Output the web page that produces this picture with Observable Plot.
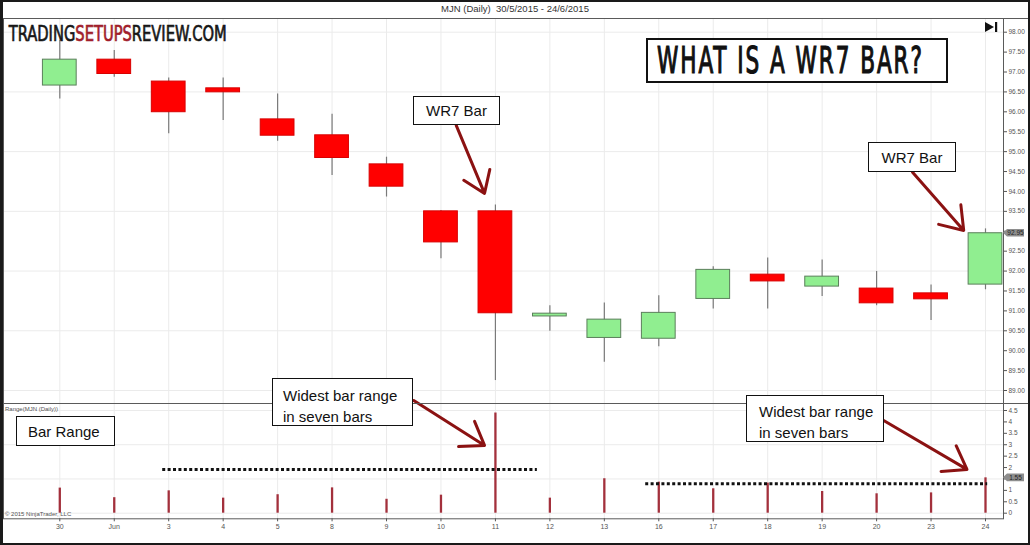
<!DOCTYPE html>
<html>
<head>
<meta charset="utf-8">
<script src="https://cdn.jsdelivr.net/npm/d3@7"></script>
<script src="https://cdn.jsdelivr.net/npm/@observablehq/plot@0.6"></script>
<style>
  html, body { margin: 0; padding: 0; background: #fff; }
  #wrap { position: relative; width: 1030px; height: 545px; overflow: hidden; background: #fff;
          font-family: "Liberation Sans", Arial, sans-serif; }
  #border { position: absolute; left: 0; top: 0; width: 1030px; height: 545px; box-sizing: border-box;
            border: 2px solid #1a1a1a; border-left-width: 3px; z-index: 20; pointer-events: none; }
  .abs { position: absolute; }
  .hline { position: absolute; left: 0; width: 1030px; height: 0; border-top: 1.5px solid #5a5a5a; z-index: 5; }
  .box { position: absolute; background: #fff; border: 1.5px solid #111; box-sizing: border-box;
         font-size: 15px; color: #111; z-index: 10; line-height: 1; }
  .tiny { position: absolute; font-size: 6px; color: #555; z-index: 6; white-space: pre; }
  #price, #lower { position: absolute; left: 0; }
  #price { top: 18px; z-index: 2; }
  #lower { top: 403px; z-index: 3; }
  svg { overflow: visible; }
  #price svg, #lower svg { background: transparent; }
  .cond { font-family: "Liberation Sans Narrow", "DejaVu Sans Condensed", "Liberation Sans", sans-serif; }
</style>
</head>
<body>
<div id="wrap">
  <div class="abs" style="left:0;top:3px;width:1030px;text-align:center;font-size:9.5px;color:#333;white-space:pre;">MJN (Daily)  30/5/2015 - 24/6/2015</div>
  <div id="price"></div>
  <div id="lower"></div>
  <div class="hline" style="top:17.5px"></div>
  <div class="hline" style="top:402.5px"></div>

  <svg class="abs" style="left:8px;top:20px;z-index:9" width="222" height="24">
    <text id="logo" class="cond" data-w="219" data-y="21"
          style="font-size:22px;fill:#161616;stroke:#161616;stroke-width:0.7px;"><tspan>TRADING</tspan><tspan style="fill:#a11d2b;stroke:#a11d2b">SETUPS</tspan><tspan>REVIEW.COM</tspan></text>
  </svg>

  <div class="box" style="left:646px;top:38px;width:302px;height:45px;border-width:2px;">
    <svg width="298" height="41" style="display:block">
      <text id="title" class="cond" data-w="267" data-x="9" data-y="33"
            style="font-size:37px;letter-spacing:3px;fill:#111;stroke:#111;stroke-width:1.2px;">WHAT IS A WR7 BAR?</text>
    </svg>
  </div>

  <svg class="abs" style="left:985px;top:21px;z-index:9" width="14" height="12">
    <polygon points="0,1 9,6 0,11" fill="#111"></polygon>
    <rect x="10" y="1" width="2.2" height="10" fill="#111"></rect>
  </svg>

  <div class="box" style="left:413px;top:96px;width:87px;height:29px;padding-top:6px;text-align:center;">WR7 Bar</div>
  <div class="box" style="left:868px;top:142px;width:88px;height:30px;padding-top:7px;text-align:center;">WR7 Bar</div>
  <div class="box" style="left:272px;top:378px;width:141px;height:48px;padding:6px 0 0 10px;line-height:21px;">Widest bar range<br>in seven bars</div>
  <div class="box" style="left:746px;top:395px;width:138px;height:47px;padding:5px 0 0 12px;line-height:21px;">Widest bar range<br>in seven bars</div>
  <div class="box" style="left:16px;top:416px;width:99px;height:30px;padding:7px 0 0 11px;">Bar Range</div>

  <div class="tiny" style="left:5px;top:406px;">Range(MJN (Daily))</div>
  <div class="tiny" style="left:5px;top:511px;">© 2015 NinjaTrader, LLC</div>

  <div id="border"></div>
</div>

<script>
// ---- data ----
const labels = ["30","Jun","3","4","5","8","9","10","11","12","13","16","17","18","19","20","23","24"];
const open   = [96.66, 97.31, 96.76, 96.59, 95.81, 95.41, 94.68, 93.50, 93.50, 90.86, 90.32, 90.30, 91.30, 91.91, 91.61, 91.56, 91.44, 91.66];
const high   = [97.80, 97.54, 96.85, 96.85, 96.45, 95.94, 94.86, 93.52, 93.66, 91.13, 91.20, 91.38, 92.11, 92.33, 92.28, 91.99, 91.65, 93.06];
const low    = [96.32, 96.87, 95.45, 95.78, 95.26, 94.40, 93.86, 92.31, 89.25, 90.49, 89.71, 90.10, 91.05, 91.05, 91.36, 91.13, 90.76, 91.53];
const close  = [97.31, 96.95, 95.99, 96.49, 95.40, 94.84, 94.12, 92.72, 90.94, 90.93, 90.78, 90.95, 92.03, 91.74, 91.86, 91.19, 91.29, 92.95];
const barRange = [1.10, 0.68, 0.98, 0.66, 0.81, 1.11, 0.61, 0.79, 4.39, 0.66, 1.51, 1.36, 1.07, 1.32, 0.95, 0.85, 0.89, 1.55];

const priceTicks = [89, 89.5, 90, 90.5, 91, 91.5, 92, 92.5, 93, 93.5, 94, 94.5, 95, 95.5, 96, 96.5, 97, 97.5, 98];
const priceGrid  = [89, 90.5, 92, 93.5, 95, 96.5, 98];
const rangeTicks = [0, 0.5, 1, 1.5, 2, 2.5, 3, 3.5, 4, 4.5];
const rangeGrid  = [0, 1.5, 3, 4.5];

// dotted "widest range" reference levels (bar-index span, level)
const levelFrom  = [1.89, 10.76];
const levelTo    = [8.77, 17.04];
const levelValue = [1.92, 1.29];

// annotation arrows (bar index / value units)
const topArrowX1 = [7.28, 15.66], topArrowY1 = [95.66, 94.48], topArrowX2 = [7.80, 16.60], topArrowY2 = [93.95, 93.02];
const lowArrowX1 = [6.50, 15.13], lowArrowY1 = [4.94, 4.06], lowArrowX2 = [7.80, 16.66], lowArrowY2 = [2.97, 1.92];

// ---- tables ----
const idx = labels.map((_, i) => i);
const candles = idx.map(i => ({i, label: labels[i], open: open[i], high: high[i], low: low[i], close: close[i]}));
const up = candles.filter(d => d.close >= d.open);
const down = candles.filter(d => d.close < d.open);
const ranges = idx.map(i => ({i, range: barRange[i]}));
const levels = levelFrom.map((f, k) => ({from: f, to: levelTo[k], value: levelValue[k]}));
const topArrows = topArrowX1.map((x, k) => ({x1: x, y1: topArrowY1[k], x2: topArrowX2[k], y2: topArrowY2[k]}));
const lowArrows = lowArrowX1.map((x, k) => ({x1: x, y1: lowArrowY1[k], x2: lowArrowX2[k], y2: lowArrowY2[k]}));

const lastClose = close[close.length - 1];
const lastRange = barRange[barRange.length - 1];

const font = "'Liberation Sans', Arial, sans-serif";
const grid = "#ebebeb";
const half = 0.31;
const arrowStyle = {stroke: "#8b1212", strokeWidth: 3, headLength: 13, headAngle: 70};

const price = Plot.plot({
  width: 1030, height: 385,
  marginLeft: 3, marginRight: 27, marginTop: 0, marginBottom: 0,
  style: {background: "transparent", fontFamily: font, color: "#555", overflow: "visible"},
  x: {type: "linear", domain: [0, 17], range: [59.3, 985], axis: null},
  y: {domain: [89, 98], range: [372, 13.7]},
  marks: [
    Plot.ruleX(idx, {stroke: grid}),
    Plot.ruleY(priceGrid, {stroke: grid}),
    Plot.ruleX(candles, {x: "i", y1: "low", y2: "high", stroke: "#7a7a7a", strokeWidth: 1.2}),
    Plot.rect(up, {x1: d => d.i - half, x2: d => d.i + half, y1: "open", y2: "close", fill: "#90ee90", stroke: "#5b7f5b", strokeWidth: 1}),
    Plot.rect(down, {x1: d => d.i - half, x2: d => d.i + half, y1: "open", y2: "close", fill: "#ff0000", stroke: "#d80000", strokeWidth: 1}),
    Plot.frame({stroke: "#5a5a5a"}),
    // the label hidden under the current-price tag is left blank, as in the reference
    Plot.axisY(priceTicks, {anchor: "right", tickFormat: d => Math.abs(d - lastClose) < 0.15 ? "" : d.toFixed(2), tickSize: 3, tickPadding: 2, fontSize: 6.5, label: null}),
    Plot.arrow(topArrows, {x1: "x1", y1: "y1", x2: "x2", y2: "y2", ...arrowStyle})
  ]
});
document.getElementById("price").appendChild(price);

const lower = Plot.plot({
  width: 1030, height: 142,
  marginLeft: 3, marginRight: 27, marginTop: 0, marginBottom: 26.7,
  style: {background: "transparent", fontFamily: font, color: "#555", overflow: "visible"},
  x: {type: "linear", domain: [0, 17], range: [59.3, 985]},
  y: {domain: [0, 4.5], range: [109.7, 7]},
  marks: [
    Plot.ruleX(idx, {stroke: grid}),
    Plot.ruleY(rangeGrid, {stroke: grid}),
    Plot.ruleX(ranges, {x: "i", y1: 0, y2: "range", stroke: "#a3303c", strokeWidth: 2.3}),
    Plot.ruleY(levels, {x1: "from", x2: "to", y: "value", stroke: "#111", strokeWidth: 3, strokeDasharray: "3,2.4"}),
    Plot.frame({stroke: "#5a5a5a"}),
    Plot.axisY(rangeTicks, {anchor: "right", tickFormat: d => Math.abs(d - lastRange) < 0.2 ? "" : String(d), tickSize: 3, tickPadding: 2, fontSize: 6.5, label: null}),
    Plot.axisX(idx, {anchor: "bottom", tickFormat: i => labels[i], tickSize: 3, tickPadding: 2, fontSize: 7, label: null}),
    Plot.arrow(lowArrows, {x1: "x1", y1: "y1", x2: "x2", y2: "y2", ...arrowStyle})
  ]
});
document.getElementById("lower").appendChild(lower);

// current-value tags on the right axes, placed through the charts' own y scales
function tag(chart, value, text) {
  const y = chart.scale("y").apply(value);
  const svg = d3.select(chart);
  const x0 = 1003;
  svg.append("path")
    .attr("d", `M${x0},${y} L${x0 + 4},${y - 3.8} L${x0 + 21},${y - 3.8} L${x0 + 21},${y + 3.8} L${x0 + 4},${y + 3.8} Z`)
    .attr("fill", "#8e8e8e");
  svg.append("text").attr("x", x0 + 12.5).attr("y", y).attr("dy", "0.34em")
    .attr("text-anchor", "middle").attr("font-size", 6.5).attr("font-family", font).attr("fill", "#222").text(text);
}
tag(price, lastClose, lastClose.toFixed(2));
tag(lower, lastRange, lastRange.toFixed(2));

// fit condensed headline texts to their measured widths by horizontal scaling
function fit(id) {
  const el = document.getElementById(id);
  const target = +el.dataset.w, x = +(el.dataset.x || 0), y = +el.dataset.y;
  const bb = el.getBBox();
  const s = target / bb.width;
  el.setAttribute("transform", `translate(${x - bb.x * s},${y}) scale(${s},1)`);
}
fit("logo");
fit("title");
</script>
</body>
</html>
